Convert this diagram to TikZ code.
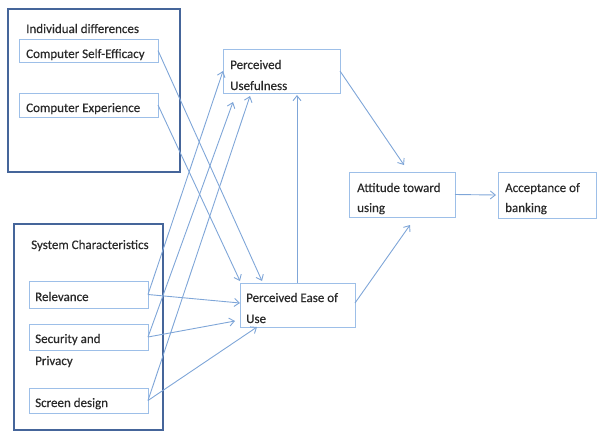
\documentclass[tikz,border=0pt]{standalone}
\usepackage{fontspec}
\setmainfont{Carlito}
\newfontfamily\txtfont[FakeBold=0.4]{Carlito}
\usetikzlibrary{arrows.meta}
\definecolor{outerc}{HTML}{45659A}
\definecolor{innerc}{HTML}{9DBFE8}
\definecolor{arrc}{HTML}{7FA6D8}
\definecolor{txtc}{HTML}{2A2A2A}
\tikzset{
  outerbox/.style={draw=outerc, line width=2.6pt, inner sep=0pt, outer sep=0pt, anchor=north west},
  innerbox/.style={draw=innerc, line width=1pt, inner sep=0pt, outer sep=0pt, anchor=north west},
  txt/.style={anchor=base west, inner sep=0pt, text=txtc, font=\txtfont\fontsize{13}{21}\selectfont},
  conn/.style={draw=arrc, line width=0.9pt, -{Straight Barb[length=5pt,width=8pt]}}
}
\begin{document}
\begin{tikzpicture}[x=1pt,y=-1pt]
\useasboundingbox (0,0) rectangle (598,432);
% outer group boxes
\node[outerbox, minimum width=172pt, minimum height=163pt] (idbox) at (8,9) {};
\node[outerbox, minimum width=149pt, minimum height=206pt] (scbox) at (14,224) {};
% inner boxes
\node[innerbox, minimum width=139pt, minimum height=23pt] (cse) at (19,39) {};
\node[innerbox, minimum width=139pt, minimum height=24pt] (ce) at (19,93) {};
\node[innerbox, minimum width=119pt, minimum height=27pt] (rel) at (29,281) {};
\node[innerbox, minimum width=119pt, minimum height=26pt] (sec) at (29,324) {};
\node[innerbox, minimum width=119pt, minimum height=25pt] (scr) at (29,388) {};
\node[innerbox, minimum width=117pt, minimum height=44pt] (pu) at (223,49) {};
\node[innerbox, minimum width=115pt, minimum height=44pt] (peou) at (240,283) {};
\node[innerbox, minimum width=106pt, minimum height=45pt] (att) at (349,172) {};
\node[innerbox, minimum width=98pt, minimum height=46pt] (acc) at (498,172) {};
% texts
\node[txt] (tid) at (26,33) {Individual differences};
\node[txt] (tcse) at (26,58) {Computer Self-Efficacy};
\node[txt] (tce) at (26,112) {Computer Experience};
\node[txt] (tsc) at (31,249) {System Characteristics};
\node[txt] (trel) at (35,301) {Relevance};
\node[txt] (tsec1) at (35,343) {Security and};
\node[txt] (tsec2) at (35,365) {Privacy};
\node[txt] (tscr) at (35,407) {Screen design};
\node[txt] (tpu1) at (230,69) {Perceived};
\node[txt] (tpu2) at (230,90) {Usefulness};
\node[txt] (tpe1) at (246,302) {Perceived Ease of};
\node[txt] (tpe2) at (246,323) {Use};
\node[txt] (tat1) at (357,192) {Attitude toward};
\node[txt] (tat2) at (357,212) {using};
\node[txt] (tac1) at (505,192) {Acceptance of};
\node[txt] (tac2) at (505,212) {banking};
% connectors
\draw[conn] (cse.east) -- ([xshift=22pt,yshift=2pt]peou.north west);
\draw[conn] (ce.east) -- ([xshift=0pt,yshift=2pt]peou.north west);
\draw[conn] (rel.east) -- (pu.west);
\draw[conn] (rel.east) -- ([yshift=2pt]peou.west);
\draw[conn] (sec.east) -- ([xshift=10pt,yshift=-9pt]pu.south west);
\draw[conn] (sec.east) -- ([xshift=-5pt,yshift=-16pt]peou.west);
\draw[conn] (scr.east) -- ([xshift=27pt,yshift=-3pt]pu.south west);
\draw[conn] (scr.east) -- ([xshift=17pt]peou.south west);
\draw[conn] ([xshift=57pt]peou.north west) -- ([xshift=74pt,yshift=-2pt]pu.south west);
\draw[conn] (pu.east) -- ([xshift=2pt,yshift=7pt]att.north);
\draw[conn] ([yshift=2pt]peou.east) -- ([xshift=8pt,yshift=-8pt]att.south);
\draw[conn] (att.east) -- ([xshift=-2pt]acc.west);
\end{tikzpicture}
\end{document}
